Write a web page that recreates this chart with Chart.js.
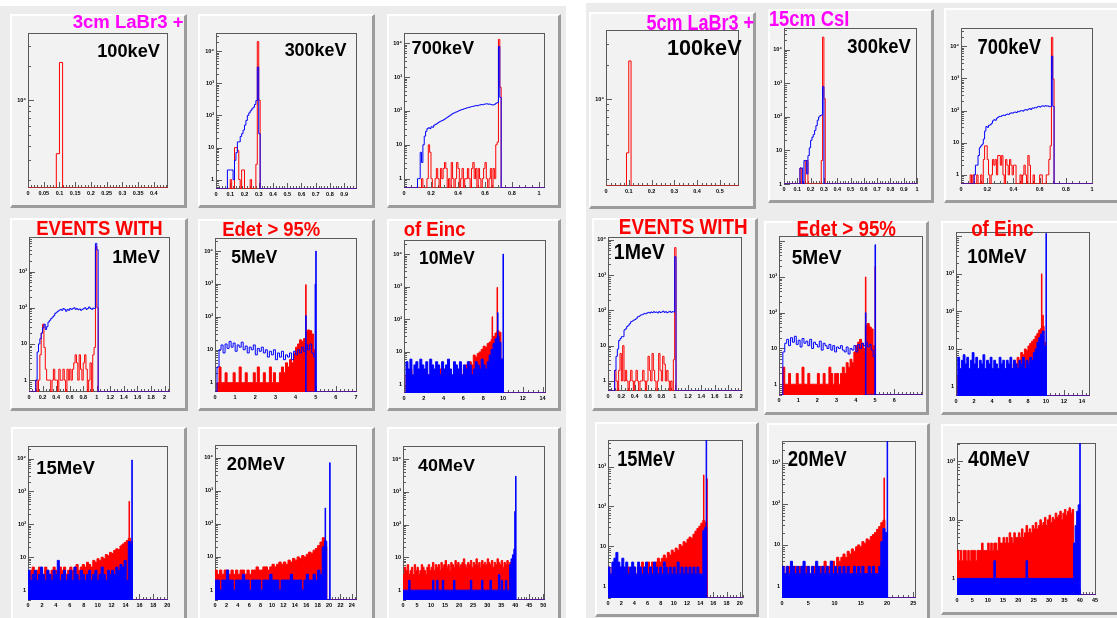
<!DOCTYPE html>
<html>
<head>
<meta charset="utf-8">
<script src="https://cdn.jsdelivr.net/npm/chart.js@4.4.1/dist/chart.umd.min.js"></script>
<style>
body{margin:0;background:#fff;width:1117px;height:618px;overflow:hidden;position:relative;font-family:"Liberation Sans",Arial,sans-serif}
.grp{position:absolute;background:#ececec}
.pad{position:absolute;box-sizing:border-box;background:#f2f2f2;border-top:2px solid #fff;border-left:2px solid #fff;border-right:3px solid #9c9c9c;border-bottom:3px solid #9c9c9c}
canvas{position:absolute}
.lbl{position:absolute;font-weight:bold;white-space:nowrap;z-index:5}
</style>
</head>
<body>
<div class="grp" style="left:0;top:6px;width:566px;height:612px"></div>
<div class="grp" style="left:586px;top:3px;width:531px;height:615px"></div>
<script>
// ---------- tick labels ----------
const xt_100keV_L = [0,0.05,0.1,0.15,0.2,0.25,0.3,0.35,0.4];
const xt_100keV_R = [0,0.1,0.2,0.3,0.4,0.5];
const xt_300keV_L = [0,0.1,0.2,0.3,0.4,0.5,0.6,0.7,0.8,0.9];
const xt_300keV_R = [0,0.1,0.2,0.3,0.4,0.5,0.6,0.7,0.8,0.9,1];
const xt_700keV = [0,0.2,0.4,0.6,0.8,1];
const xt_1MeV = [0,0.2,0.4,0.6,0.8,1,1.2,1.4,1.6,1.8,2];
const xt_5MeV_L = [0,1,2,3,4,5,6,7];
const xt_5MeV_R = [0,1,2,3,4,5,6];
const xt_10MeV = [0,2,4,6,8,10,12,14];
const xt_15MeV = [0,2,4,6,8,10,12,14,16,18,20];
const xt_20MeV_L = [0,2,4,6,8,10,12,14,16,18,20,22,24];
const xt_20MeV_R = [0,5,10,15,20,25];
const xt_40MeV_L = [0,5,10,15,20,25,30,35,40,45,50];
const xt_40MeV_R = [0,5,10,15,20,25,30,35,40,45];
const yt_top = [10000];
const yt_dec4 = [1,10,100,1000,10000];
const yt_dec3 = [1,10,100,1000];
const yt_dec2 = [1,10,100];

// ---------- 3cm LaBr3 + 15cm CsI (left) ----------
const L_100keV_red = [3400,21500];
const L_300keV_blue = [2,2,2,2,1,4,7,15,15,22,27,35,50,70,100,120,140,160,180,220,290,3200,27];
const L_300keV_red = [0,0,1,0,0,10,10,8,1,0,2,2,0,0,0,0,1,0,0,0,3,20000,300];
const L_700keV_blue = [1,1,6,3,10,18,25,30,32,30, 34,33,38,40,42,45,48,50,52,55, 58,62,66,70,75,80,85,88,92,95,
  100,104,108,110,115,118,122,125,128,132, 135,138,140,145,142,148,150,155,152,158, 160,163,158,160,155,150,152,158,170,175, 8000,250];
const L_700keV_red = [1,0,0,0,1,10,6,1,0,0, 1,2,1,0,2,1,2,3,2,0, 1,0,3,1,0,1,3,2,0,1, 2,0,1,1,2,1,0,2,3,1,
  2,0,2,1,0,1,2,3,1,0, 1,2,0,2,1,10,12,13000,500];
const L_1MeV_blue = [1,6,10,14,20,28,35,25,30,40, 45,50,55,60,70,75,80,85,90,85, 95,90,80,90,85,95,90,95,100,90,
  95,88,92,85,90,95,100,90,95,105, 95,90,98,95,6000,4000];
const L_1MeV_red = [1,0,1,5,20,35,8,2,1,1, 1,0,1,2,1,1,0,2,1,1, 2,1,0,2,1,2,1,2,3,5, 3,1,5,2,1,3,5,2,0,1, 3,0,5,8,5000,100];
const L_5MeV_blue = [3,10,14,8,15,11,18,12,16,9, 14,12,17,10,13,8,12,10,14,7, 11,9,12,8,10,6,9,7,10,5,
  8,6,9,5,7,6,8,5,9,7, 10,8,12,9,14,10,15,8,6];
const L_5MeV_blueSpikes = [[4.5,110],[4.97,1000],[5.0,10000]];
const L_5MeV_red = [1,3,1,1,2,1,1,1,2,1, 1,3,1,1,2,1,1,1,2,1, 3,1,1,2,1,1,3,1,2,1, 1,2,3,2,4,3,5,4,8,12, 15,20,18,22,35,40,38,30,10];
const L_5MeV_redSpikes = [[4.5,950]];
const L_10MeV_blue = [5,3,6,2,4,5,3,6,4,3, 5,2,6,4,3,5,4,2,5,3, 4,6,3,2,5,4,3,5,2,4, 3,5,4,2,3,5,4,3,6,4, 3,5,8,12,18,25,30,20,6];
const L_10MeV_blueSpikes = [[9.45,160],[10.0,10000]];
const L_10MeV_red = [2,1,3,1,2,1,2,3,1,2, 1,2,1,3,2,1,2,3,1,2, 2,3,2,1,2,3,2,3,2,3, 4,3,5,4,8,7,9,10,12,15, 14,18,20,24,30,38,45,40,6];
const L_10MeV_redSpikes = [[8.9,120],[9.4,950]];
const L_15MeV_blue = [4,2,3,4,2,3,5,3,2,4, 3,2,4,3,8,2,3,4,2,3, 4,2,5,3,2,4,3,2,3,4, 2,3,4,2,3,5,3,2,4,3, 4,3,5,4,6,5,8,2,30,25];
const L_15MeV_blueSpikes = [[14.9,9000]];
const L_15MeV_red = [3,4,5,3,4,5,4,3,5,4, 3,4,5,4,3,5,4,5,3,4, 5,4,5,6,4,5,6,5,7,6, 5,8,7,9,8,10,9,12,11,14, 13,16,18,17,22,25,28,32,38,30];
const L_15MeV_redSpikes = [[14.5,500]];
const L_20MeV_blue = [2,2,1,2,2,4,2,2,1,2, 2,2,3,2,2,1,2,2,2,2, 1,2,2,2,3,2,2,2,1,2, 2,2,2,3,2,2,2,2,1,2, 3,2,2,3,2,4,3,20,30];
const L_20MeV_blueSpikes = [[19.3,300],[20.1,7000]];
const L_20MeV_red = [4,3,4,3,4,4,3,4,3,4, 3,4,4,3,4,3,4,4,5,4, 4,5,5,4,5,6,5,6,7,6, 7,6,8,7,9,8,10,9,11,10, 12,14,13,16,18,22,28,38,20];
const L_40MeV_blue = [1,1,1,1,2,1,1,1,1,1, 1,1,1,1,1,1,1,1,1,1, 1,2,1,1,2,1,1,1,2,1, 1,1,1,1,1,1,2,1,1,1,
  1,1,1,1,1,1,1,1,2,1, 1,1,1,1,1,1,2,1,1,1, 1,1,2,1,1,1,1,1,3,1, 2,1,1,2,1,1,6,9,12,18];
const L_40MeV_blueSpikes = [[39.8,250],[40.1,3000]];
const L_40MeV_red = [3,5,4,6,3,4,5,3,6,4, 5,3,4,6,5,4,3,5,6,4, 5,7,4,6,5,6,4,7,5,6, 8,5,6,4,7,6,5,8,6,7,
  5,6,7,9,6,5,7,6,8,5, 7,6,9,6,7,5,8,6,7,6, 9,7,6,8,5,7,6,9,7,6, 8,5,7,6,8,6,7,5];

// ---------- 5cm LaBr3 + 15cm CsI (right) ----------
const R_100keV_red = [3400,21500];
const R_300keV_blue = [3,3,1,5,5,2,7,12,20,25,30,40,55,80,100,110,115,800];
const R_300keV_red = [3,1,0,0,5,5,0,0,0,0,0,0,0,0,0,0,5,24000,350];
const R_700keV_blue = [1,2,2,4,7,8,9,13,23,32, 30,35,36,40,48,52,50,58,62,66, 65,70,72,70,75,78,76,82,85,83,
  88,90,87,95,92,98,100,96,104,107, 103,110,115,108,120,118,125,122,130,135, 128,138,140,135,142,138,140,132,135,4900, 135];
const R_700keV_red = [1,0,1,0,0,1,0,0,1,0, 3,8,8,3,1,0,1,3,2,3, 1,4,4,2,4,1,0,3,2,1, 3,2,1,2,2,0,0,0,1,0,
  1,2,1,0,4,2,0,0,1,0, 0,0,0,1,1,0,0,0,1,1, 3,8,19000,950];
const R_1MeV_blue = [2,5,8,14,16,18,18,28,30,35, 38,42,48,50,53,55,60,66,68,73, 75,78,82,80,85,88,84,90,86,92,
  88,90,85,92,87,90,95,88,92,86, 90,94,88,92,90,3300];
const R_1MeV_red = [2,1,0,2,6,1,10,1,2,1, 0,1,2,1,0,1,2,1,0,1, 1,2,1,0,1,5,2,1,6,2, 1,0,1,6,2,1,5,3,1,2, 1,0,1,0,4,6000];
const R_5MeV_blue = [8,14,18,12,20,15,22,13,17,11, 19,14,16,12,18,10,15,13,11,16, 9,14,12,10,13,9,12,8,11,10,
  12,9,8,11,7,10,9,12,8,13, 10,14,12,15,11,13,9,6];
const R_5MeV_blueSpikes = [[4.5,100],[5.0,8000]];
const R_5MeV_red = [3,1,1,2,1,1,1,2,1,1, 3,1,1,2,1,1,1,1,2,1, 1,2,1,1,3,2,1,2,2,1, 2,3,2,4,3,5,4,8,12,15, 18,14,10,45,50,40,35,12];
const R_5MeV_redSpikes = [[4.5,1000],[5.0,2000]];
const R_10MeV_blue = [6,3,5,7,4,6,3,5,8,4, 6,3,5,4,7,3,5,4,6,3, 5,4,3,6,4,5,3,5,4,6, 3,5,4,3,5,4,6,3,5,4, 6,5,8,10,15,20,25,30,12];
const R_10MeV_blueSpikes = [[10.0,12000]];
const R_10MeV_red = [2,1,1,2,1,2,1,1,2,1, 1,2,1,2,1,1,2,1,2,1, 2,1,2,3,2,1,2,3,2,4, 3,5,4,6,5,8,7,10,9,12, 14,16,18,22,26,32,35,40,15];
const R_10MeV_redSpikes = [[9.5,1000],[9.65,80]];
const R_15MeV_blue = [3,2,4,5,7,4,3,5,3,4, 2,3,4,3,2,4,3,2,3,4, 2,3,2,4,3,2,3,2,4,3, 2,3,2,3,2,4,2,3,2,3, 2,3,2,3,2,3,2,2,25,30];
const R_15MeV_blueSpikes = [[14.9,5000]];
const R_15MeV_red = [3,2,3,2,3,2,3,3,2,3, 3,2,3,3,2,3,3,4,3,3, 4,3,4,3,4,5,4,5,6,5, 7,6,8,7,9,8,11,10,13,12, 15,17,16,20,24,28,32,38,45,40];
const R_15MeV_redSpikes = [[14.5,620],[15.0,500]];
const R_20MeV_blue = [3,2,3,2,4,3,2,3,2,3, 4,2,3,2,3,2,4,3,2,3, 2,3,2,4,2,3,2,3,2,3, 2,3,2,2,3,2,3,2,3,2, 2,3,2,3,2,2,3,12,25,20];
const R_20MeV_blueSpikes = [[20.0,5000]];
const R_20MeV_red = [3,2,3,3,2,3,3,2,3,3, 2,3,3,2,3,3,3,2,3,3, 4,3,3,4,4,3,5,4,5,6, 5,7,6,8,7,9,10,9,12,11, 14,13,16,18,20,24,28,35,40];
const R_20MeV_redSpikes = [[19.4,430]];
const R_40MeV_blue = [1,1,1,1,1,1,1,1,1,1, 1,1,1,1,1,1,1,1,1,1, 1,1,1,1,2,1,1,1,1,1, 1,1,1,1,1,1,1,1,1,1,
  1,1,1,1,1,2,1,1,1,1, 1,1,1,1,1,1,1,1,1,1, 1,1,1,1,1,1,1,1,1,1, 1,1,1,1,1,1,4,8,14,18];
const R_40MeV_blueSpikes = [[40.0,1000]];
const R_40MeV_red = [3,2,3,2,3,3,2,3,2,3, 3,3,2,3,3,3,4,3,3,3, 4,3,4,3,4,4,3,5,4,4, 5,4,5,4,6,5,4,6,5,5,
  6,5,7,5,6,8,6,7,6,8, 7,9,7,8,10,8,9,11,8,10, 12,9,11,10,13,11,12,14,10,13, 15,12,14,16,13,15];

const energies = ["100keV","300keV","700keV","1MeV","5MeV","10MeV","15MeV","20MeV","40MeV"];

// ---------- panel table (layout + which arrays) ----------
const panels = [
  {box:[10,14,187,208], plot:[28,33,168,188], xr:[0,0.445], yr:[1700,39000], xt:xt_100keV_L, yt:yt_top, minor:0.01,
   red:{start:0.09, w:0.01, v:L_100keV_red}},
  {box:[198,14,375,208], plot:[216,33,357,189], xr:[0,0.99], yr:[0.51,37000], xt:xt_300keV_L, yt:yt_dec4, minor:0.02,
   blue:{start:0.08, w:0.01, v:L_300keV_blue}, red:{start:0.08, w:0.01, v:L_300keV_red}},
  {box:[387,14,561,208], plot:[404,33,545,188], xr:[0,1.045], yr:[0.53,20000], xt:xt_700keV, yt:yt_dec4, minor:0.05,
   blue:{start:0.10, w:0.01, v:L_700keV_blue}, red:{start:0.13, w:0.01, v:L_700keV_red}},
  {box:[10,218,188,411], plot:[29,237,170,392], xr:[0,2.08], yr:[0.47,9000], xt:xt_1MeV, yt:yt_dec3, minor:0.05,
   blue:{start:0.10, w:0.02, v:L_1MeV_blue}, red:{start:0.10, w:0.02, v:L_1MeV_red}},
  {box:[198,219,375,411], plot:[215,238,357,392], xr:[0,7.05], yr:[0.52,25000], xt:xt_5MeV_L, yt:yt_dec4, minor:0.2,
   blue:{start:0.1, w:0.1, v:L_5MeV_blue, spikes:L_5MeV_blueSpikes},
   red:{start:0.1, w:0.1, v:L_5MeV_red, spikes:L_5MeV_redSpikes, fill:true}},
  {box:[387,219,561,411], plot:[404,240,546,393], xr:[0,14.35], yr:[0.55,27000], xt:xt_10MeV, yt:yt_dec4, minor:0.5,
   blue:{start:0.2, w:0.2, v:L_10MeV_blue, spikes:L_10MeV_blueSpikes, fill:true},
   red:{start:0.2, w:0.2, v:L_10MeV_red, spikes:L_10MeV_redSpikes, fill:true}},
  {box:[11,427,187,625], plot:[28,446,168,600], xr:[0,20.1], yr:[0.5,24000], xt:xt_15MeV, yt:yt_dec4, minor:0.5,
   blue:{start:0, w:0.3, v:L_15MeV_blue, spikes:L_15MeV_blueSpikes, fill:true},
   red:{start:0, w:0.3, v:L_15MeV_red, spikes:L_15MeV_redSpikes, fill:true}},
  {box:[198,427,375,625], plot:[215,445,357,600], xr:[0,24.9], yr:[0.5,24000], xt:xt_20MeV_L, yt:yt_dec4, minor:0.5,
   blue:{start:0, w:0.4, v:L_20MeV_blue, spikes:L_20MeV_blueSpikes, fill:true},
   red:{start:0, w:0.4, v:L_20MeV_red, fill:true}},
  {box:[387,427,561,625], plot:[403,446,545,600], xr:[0,50.6], yr:[0.5,25000], xt:xt_40MeV_L, yt:yt_dec4, minor:1,
   blue:{start:0, w:0.5, v:L_40MeV_blue, spikes:L_40MeV_blueSpikes, fill:true},
   red:{start:0, w:0.5, v:L_40MeV_red, fill:true}},

  {box:[589,12,756,209], plot:[606,30,739,186], xr:[0,0.584], yr:[1750,40000], xt:xt_100keV_R, yt:yt_top, minor:0.02,
   red:{start:0.09, w:0.01, v:R_100keV_red}},
  {box:[768,9,934,203], plot:[784,28,917,184], xr:[0,1.0], yr:[1,45000], xt:xt_300keV_R, yt:yt_dec4, minor:0.02,
   blue:{start:0.12, w:0.01, v:R_300keV_blue}, red:{start:0.12, w:0.01, v:R_300keV_red}},
  {box:[944,8,1122,203], plot:[961,28,1093,184], xr:[0,1.007], yr:[0.52,37000], xt:xt_700keV, yt:yt_dec4, minor:0.05,
   blue:{start:0.10, w:0.01, v:R_700keV_blue}, red:{start:0.07, w:0.01, v:R_700keV_red}},
  {box:[592,218,758,411], plot:[608,237,742,391], xr:[0,2.01], yr:[0.52,12000], xt:xt_1MeV, yt:yt_dec4, minor:0.05,
   blue:{start:0.10, w:0.02, v:R_1MeV_blue}, red:{start:0.10, w:0.02, v:R_1MeV_red}},
  {box:[764,221,929,415], plot:[779,236,923,395], xr:[0,7.5], yr:[0.5,14000], xt:xt_5MeV_R, yt:yt_dec3, minor:0.2,
   blue:{start:0.2, w:0.1, v:R_5MeV_blue, spikes:R_5MeV_blueSpikes},
   red:{start:0.2, w:0.1, v:R_5MeV_red, spikes:R_5MeV_redSpikes, fill:true}},
  {box:[941,221,1122,415], plot:[956,232,1090,396], xr:[0,14.9], yr:[0.56,13000], xt:xt_10MeV, yt:yt_dec3, minor:0.5,
   blue:{start:0.2, w:0.2, v:R_10MeV_blue, spikes:R_10MeV_blueSpikes, fill:true},
   red:{start:0.2, w:0.2, v:R_10MeV_red, spikes:R_10MeV_redSpikes, fill:true}},
  {box:[595,422,759,617], plot:[608,440,743,598], xr:[0,20.5], yr:[0.5,4700], xt:xt_15MeV, yt:yt_dec3, minor:0.5,
   blue:{start:0, w:0.3, v:R_15MeV_blue, spikes:R_15MeV_blueSpikes, fill:true},
   red:{start:0, w:0.3, v:R_15MeV_red, spikes:R_15MeV_redSpikes, fill:true}},
  {box:[767,423,930,625], plot:[782,441,916,598], xr:[0,25.5], yr:[0.51,3400], xt:xt_20MeV_R, yt:yt_dec3, minor:1,
   blue:{start:0, w:0.4, v:R_20MeV_blue, spikes:R_20MeV_blueSpikes, fill:true},
   red:{start:0, w:0.4, v:R_20MeV_red, spikes:R_20MeV_redSpikes, fill:true}},
  {box:[941,424,1122,615], plot:[957,443,1096,595], xr:[0,45.3], yr:[0.52,205], xt:xt_40MeV_R, yt:yt_dec2, minor:1,
   blue:{start:0, w:0.5, v:R_40MeV_blue, spikes:R_40MeV_blueSpikes, fill:true},
   red:{start:0, w:0.5, v:R_40MeV_red, fill:true}}
];

// text overlays: [text, colour, ink left, cap top, ink width, cap height]
const titles = [
  ["3cm LaBr3 +", "#ff00ff", 73, 15, 110, 13.3],
  ["5cm LaBr3 +", "#ff00ff", 647, 15, 106.5, 15],
  ["15cm CsI", "#ff00ff", 770, 11.7, 78.3, 15],
  ["EVENTS WITH", "#ff0000", 37.3, 221.7, 124.3, 14],
  ["Edet > 95%", "#ff0000", 223.3, 222.3, 96.7, 14.3],
  ["of Einc", "#ff0000", 404.3, 222.3, 60.7, 14.3],
  ["EVENTS WITH", "#ff0000", 620, 220, 126.7, 15],
  ["Edet > 95%", "#ff0000", 797.7, 221.7, 98, 15],
  ["of Einc", "#ff0000", 971.7, 221.7, 61.7, 15]
];
const energyBoxes = [
  [98.3,45,61.7,12.3],[285,43.3,61.7,12.7],[412.3,40.7,62,13.3],
  [113.3,251,46.7,12.3],[231.7,251.7,45.6,12.6],[420,251.7,55,13.3],
  [37.3,461.7,57.7,12.6],[227.3,458.3,57.7,12.7],[418.3,460,56.7,11.7],
  [668.3,39.3,73.4,15.7],[847.7,39.3,63.3,14],[978.3,40,62.7,15],
  [615,245,50,15],[792.3,250,49.4,14.3],[968.3,250,58.4,14.3],
  [618.3,451,56.7,15.7],[788.3,451.7,58.4,15],[968.3,451.7,61.7,15]
];

Chart.defaults.font.family = '"Liberation Sans", Arial, sans-serif';
const RED = "#ff0000", BLUE = "#0000ff";
const SUP = "⁰¹²³⁴⁵⁶⁷⁸⁹";

function fmtX(v) { return String(+v.toFixed(3)); }
function fmtY(v) {
  const e = Math.round(Math.log10(v));
  if (e === 0) return "1";
  if (e === 1) return "10";
  return "10" + SUP[e];
}

// histogram -> step points (left bin edges), empty bins sit on the axis floor
function histPoints(s, p) {
  const lo = p.yr[0];
  const pts = [{x: p.xr[0], y: lo}, {x: s.start, y: lo}];
  s.v.forEach((v, i) => pts.push({x: s.start + i * s.w, y: v > lo ? v : lo}));
  pts.push({x: s.start + s.v.length * s.w, y: lo});
  pts.push({x: p.xr[1], y: lo});
  return pts;
}
function spikePoints(list, p) {
  const lo = p.yr[0];
  const sw = (p.xr[1] - p.xr[0]) / 260;
  const pts = [];
  list.slice().sort((a, b) => a[0] - b[0]).forEach(([sx, sv]) => {
    pts.push({x: sx, y: lo}, {x: sx, y: sv}, {x: sx + sw, y: lo});
  });
  return pts;
}
function ds(pts, color, fill) {
  return {data: pts, borderColor: color, backgroundColor: color, borderWidth: 1,
          fill: fill ? "start" : false, stepped: "before", pointRadius: 0};
}

// ROOT-like frame with ticks inside the pad
const rootFrame = {
  id: "rootFrame",
  beforeDatasetsDraw(chart, args, opts) {
    const {ctx, chartArea: a, scales: {x, y}} = chart;
    ctx.save();
    ctx.strokeStyle = "#5a5a5a";
    ctx.lineWidth = 1;
    ctx.strokeRect(Math.round(a.left) + 0.5, Math.round(a.top) + 0.5,
                   Math.round(a.width) - 1, Math.round(a.height) - 1);
    ctx.beginPath();
    const k0 = Math.floor(Math.log10(y.min)), k1 = Math.ceil(Math.log10(y.max));
    for (let k = k0; k <= k1; k++) {
      for (let m = 1; m <= 9; m++) {
        const v = m * Math.pow(10, k);
        if (v < y.min || v > y.max) continue;
        const py = Math.round(y.getPixelForValue(v)) + 0.5;
        ctx.moveTo(a.left, py);
        ctx.lineTo(a.left + (m === 1 ? 6 : 3), py);
      }
    }
    const n = Math.floor((x.max - x.min) / opts.minor + 1e-6);
    for (let i = 0; i <= n; i++) {
      const v = x.min + i * opts.minor;
      const major = opts.major.some(t => Math.abs(t - v) < opts.minor / 10);
      const px = Math.round(x.getPixelForValue(v)) + 0.5;
      ctx.moveTo(px, a.bottom);
      ctx.lineTo(px, a.bottom - (major ? 6 : 3));
    }
    ctx.stroke();
    ctx.restore();
  }
};

function makePanel(p) {
  const [bx0, by0, bx1, by1] = p.box;
  const [px0, py0, px1, py1] = p.plot;
  const pad = document.createElement("div");
  pad.className = "pad";
  Object.assign(pad.style, {left: bx0 + "px", top: by0 + "px", width: (bx1 - bx0) + "px", height: (by1 - by0) + "px"});
  document.body.appendChild(pad);

  const cv = document.createElement("canvas");
  cv.width = bx1 - bx0; cv.height = by1 - by0;
  Object.assign(cv.style, {left: bx0 + "px", top: by0 + "px", width: (bx1 - bx0) + "px", height: (by1 - by0) + "px", zIndex: 2});
  document.body.appendChild(cv);

  const sets = [];
  if (p.blue && p.blue.spikes) sets.push(ds(spikePoints(p.blue.spikes, p), BLUE, p.blue.fill));
  if (p.blue) sets.push(ds(histPoints(p.blue, p), BLUE, p.blue.fill));
  if (p.red && p.red.spikes) sets.push(ds(spikePoints(p.red.spikes, p), RED, p.red.fill));
  if (p.red) sets.push(ds(histPoints(p.red, p), RED, p.red.fill));

  const tickFont = {size: 5.5, weight: "bold"};
  new Chart(cv, {
    type: "line",
    data: {datasets: sets},
    options: {
      responsive: false,
      animation: false,
      devicePixelRatio: 1,
      layout: {autoPadding: false, padding: {top: py0 - by0, right: bx1 - px1, left: 0, bottom: 0}},
      plugins: {legend: {display: false}, tooltip: {enabled: false},
                rootFrame: {minor: p.minor, major: p.xt}},
      scales: {
        x: {
          type: "linear", min: p.xr[0], max: p.xr[1],
          afterFit: s => { s.height = by1 - py1; },
          afterBuildTicks: s => { s.ticks = p.xt.map(v => ({value: v})); },
          grid: {display: false, drawTicks: false}, border: {display: false},
          ticks: {font: tickFont, color: "#000", padding: 2, maxRotation: 0, autoSkip: false, callback: v => fmtX(v)}
        },
        y: {
          type: "logarithmic", min: p.yr[0], max: p.yr[1],
          afterFit: s => { s.width = px0 - bx0; },
          afterBuildTicks: s => { s.ticks = p.yt.map(v => ({value: v})); },
          grid: {display: false, drawTicks: false}, border: {display: false},
          ticks: {font: tickFont, color: "#000", padding: 2, autoSkip: false, callback: v => fmtY(v)}
        }
      }
    },
    plugins: [rootFrame]
  });
}

// bold text fitted to the measured box of the reference
const mctx = document.createElement("canvas").getContext("2d");
function addText(t, color, x, capTop, w, capH) {
  mctx.font = 'bold 100px "Liberation Sans"';
  const m = mctx.measureText(t);
  const capRef = mctx.measureText("H").actualBoundingBoxAscent;
  const size = 100 * w / (m.actualBoundingBoxLeft + m.actualBoundingBoxRight);
  const sy = capH / (capRef * size / 100);
  const asc = 0.8465 * size;
  const d = document.createElement("div");
  d.className = "lbl";
  d.textContent = t;
  Object.assign(d.style, {
    color: color, fontSize: size + "px", lineHeight: size + "px",
    left: (x + m.actualBoundingBoxLeft * size / 100) + "px",
    top: (capTop + capH - asc) + "px",
    transformOrigin: "0 " + asc + "px", transform: "scaleY(" + sy + ")"
  });
  document.body.appendChild(d);
}

panels.forEach(makePanel);
energies.concat(energies).forEach((e, i) => {
  const b = energyBoxes[i];
  addText(e, "#000", b[0], b[1], b[2], b[3]);
});
titles.forEach(t => addText(...t));
</script>
</body>
</html>
